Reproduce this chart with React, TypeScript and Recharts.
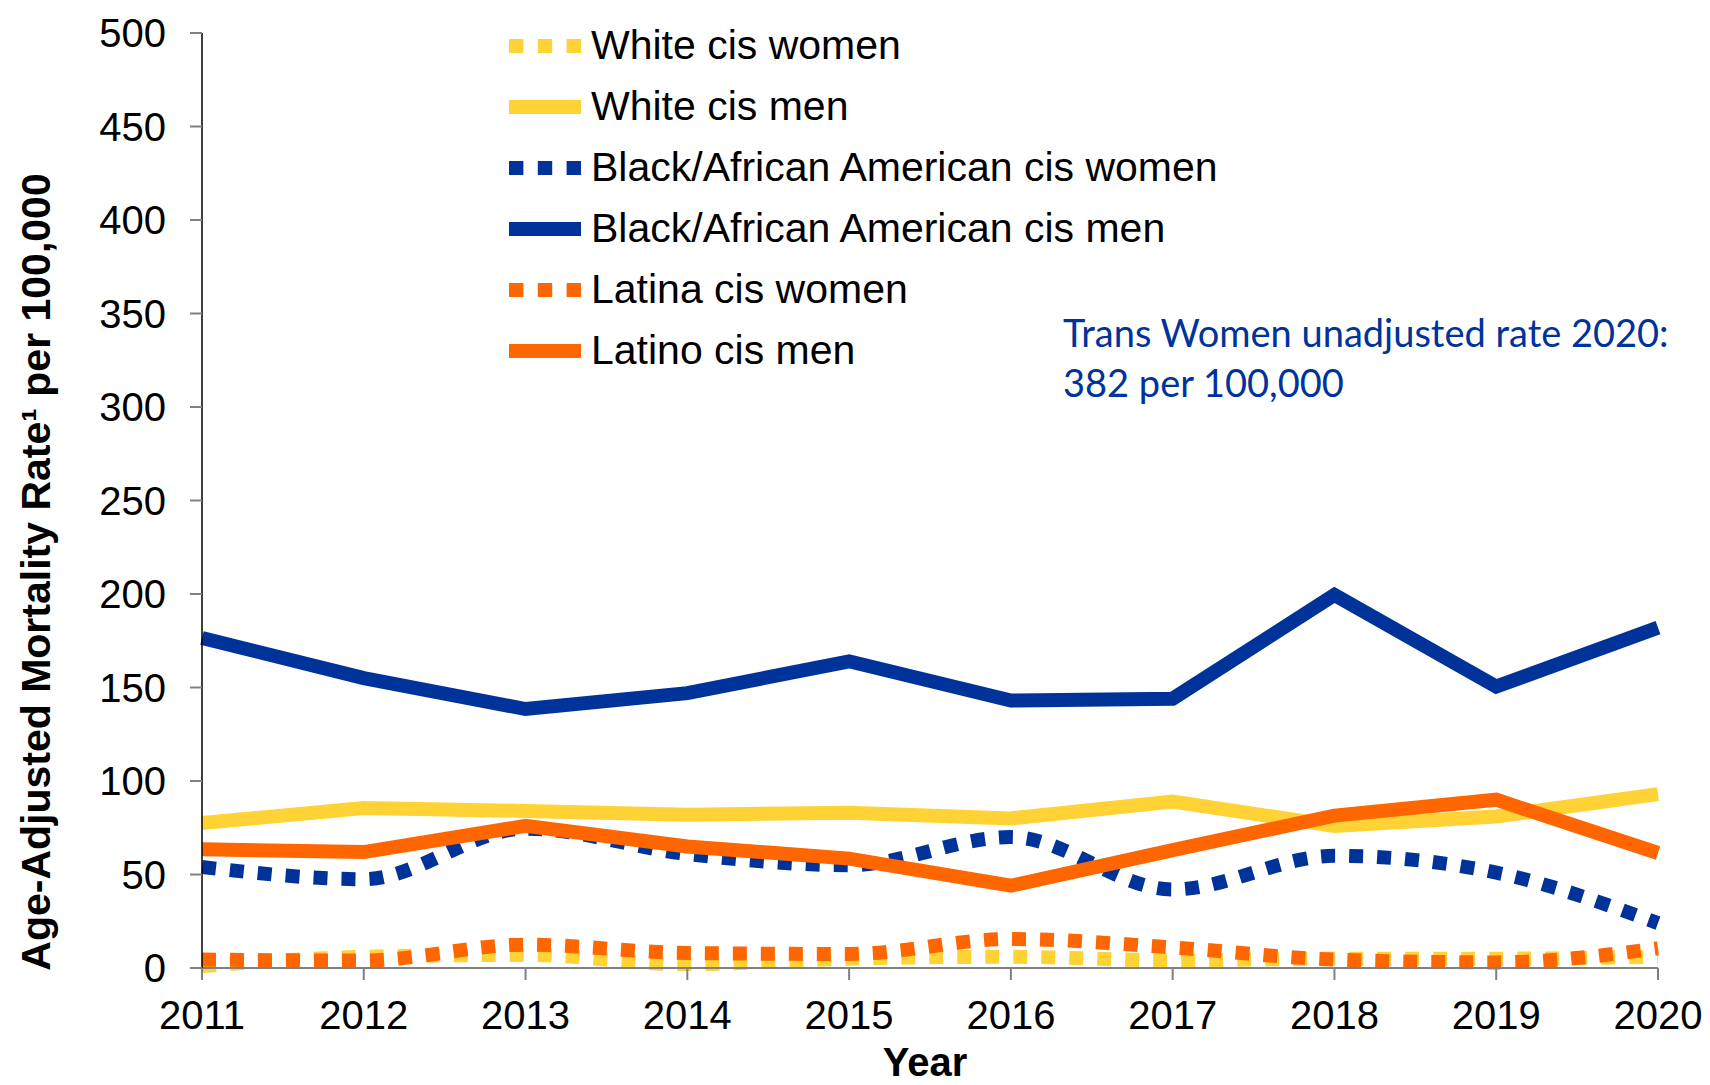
import React from 'react'
import { LineChart, Line, XAxis, YAxis, Label } from 'recharts'

document.body.style.margin = '0'

const years = ['2011', '2012', '2013', '2014', '2015', '2016', '2017', '2018', '2019', '2020']
const yTicks = [0, 50, 100, 150, 200, 250, 300, 350, 400, 450, 500]

const whiteCisWomen = [1, 6, 7, 2, 5, 6, 4, 5, 5, 6]
const whiteCisMen = [77.5, 85.5, 84, 82, 83, 80, 89, 76, 81, 93]
const blackCisWomen = [54, 47.5, 74.5, 61, 55, 70, 42, 60, 51, 24]
const blackCisMen = [176.5, 155, 138.5, 147, 164, 143, 144, 199.5, 150.5, 182]
const latinaCisWomen = [4.5, 4, 12.5, 8, 7.5, 15.5, 11, 4.5, 3, 10.5]
const latinoCisMen = [63.5, 62, 76, 65, 58.5, 44, 63, 81.5, 90, 61.5]

const seriesNames = [
  'White cis women',
  'White cis men',
  'Black/African American cis women',
  'Black/African American cis men',
  'Latina cis women',
  'Latino cis men',
]

const YELLOW = '#FFD335'
const BLUE = '#00339A'
const ORANGE = '#FF6600'

const seriesStyle = [
  { key: 'ww', color: YELLOW, dotted: true },
  { key: 'wm', color: YELLOW, dotted: false },
  { key: 'bw', color: BLUE, dotted: true },
  { key: 'bm', color: BLUE, dotted: false },
  { key: 'lw', color: ORANGE, dotted: true },
  { key: 'lm', color: ORANGE, dotted: false },
]

const data = years.map((year, i) => ({
  year,
  ww: whiteCisWomen[i],
  wm: whiteCisMen[i],
  bw: blackCisWomen[i],
  bm: blackCisMen[i],
  lw: latinaCisWomen[i],
  lm: latinoCisMen[i],
}))

const FONT = '"Liberation Sans", Arial, Helvetica, sans-serif'
const DASH = '14 14'

function ChartLegend() {
  return (
    <div style={{ position: 'absolute', left: 509, top: 15, fontFamily: FONT }}>
      {seriesNames.map((name, i) => (
        <div key={name} style={{ display: 'flex', alignItems: 'center', height: 61 }}>
          <svg width={82} height={20}>
            <line
              x1={0}
              y1={10}
              x2={72}
              y2={10}
              stroke={seriesStyle[i].color}
              strokeWidth={14}
              strokeDasharray={seriesStyle[i].dotted ? '14.4 14.4' : undefined}
            />
          </svg>
          <span style={{ fontSize: 41, color: '#000', whiteSpace: 'nowrap' }}>{name}</span>
        </div>
      ))}
    </div>
  )
}

export default function App() {
  return (
    <div style={{ position: 'relative', width: 1710, height: 1085, background: '#fff', overflow: 'hidden' }}>
      <LineChart width={1710} height={1085} data={data} margin={{ top: 33, right: 52, bottom: 0, left: 0 }}>
        <XAxis
          dataKey="year"
          height={117}
          axisLine={{ stroke: '#808080', strokeWidth: 2 }}
          tickLine={{ stroke: '#808080', strokeWidth: 2 }}
          tickSize={12}
          tickMargin={21}
          tick={{ fontSize: 40, fill: '#000', fontFamily: FONT }}
          interval={0}
        >
          <Label
            content={() => (
              <text x={925} y={1076} textAnchor="middle" fontSize={40} fontWeight="bold" fontFamily={FONT} fill="#000">
                Year
              </text>
            )}
          />
        </XAxis>
        <YAxis
          width={202}
          domain={[0, 500]}
          ticks={yTicks}
          axisLine={{ stroke: '#000', strokeWidth: 1.5 }}
          tickLine={{ stroke: '#808080', strokeWidth: 2 }}
          tickSize={12}
          tickMargin={24}
          tick={{ fontSize: 40, fill: '#000', fontFamily: FONT }}
          interval={0}
        >
          <Label
            content={() => (
              <text
                x={36}
                y={572}
                transform="rotate(-90, 36, 572)"
                textAnchor="middle"
                dominantBaseline="central"
                fontSize={41}
                fontWeight="bold"
                fontFamily={FONT}
                fill="#000"
              >
                Age-Adjusted Mortality Rate¹ per 100,000
              </text>
            )}
          />
        </YAxis>
        {seriesStyle.map((s, i) => (
          <Line
            key={s.key}
            dataKey={s.key}
            name={seriesNames[i]}
            type={s.dotted ? 'monotone' : 'linear'}
            stroke={s.color}
            strokeWidth={14}
            strokeDasharray={s.dotted ? DASH : undefined}
            strokeLinecap="butt"
            dot={false}
            activeDot={false}
            isAnimationActive={false}
          />
        ))}
      </LineChart>
      <ChartLegend />
      <div
        style={{
          position: 'absolute',
          left: 1063,
          top: 307,
          color: '#00339A',
          fontFamily: 'Lato, "Open Sans", sans-serif',
          fontSize: 38,
          lineHeight: '50px',
          whiteSpace: 'nowrap',
        }}
      >
        Trans Women unadjusted rate 2020:
        <br />
        382 per 100,000
      </div>
    </div>
  )
}
